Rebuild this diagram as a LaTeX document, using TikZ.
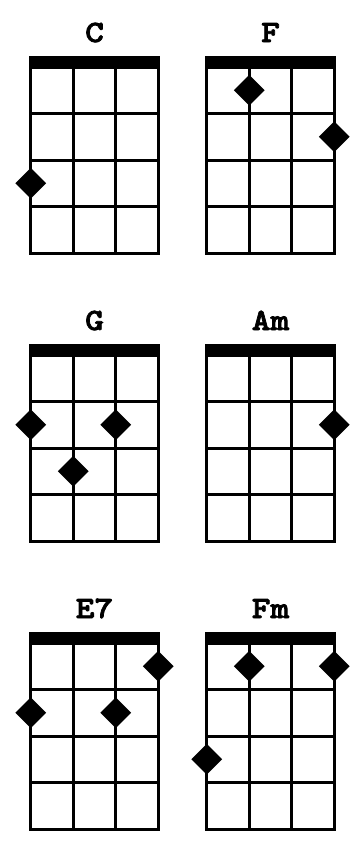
\documentclass[tikz,border=0pt]{standalone}
\usepackage{fontspec}
\newfontfamily\chordfont{lmmonolt10-bold}[Extension=.otf, FakeBold=2.4, FakeStretch=1.15]
\usetikzlibrary{shapes.geometric}

\tikzset{
  fret/.style={line width=3pt, line cap=rect},
  dot/.style={fill=black, shape=diamond, minimum width=31pt, minimum height=31pt, inner sep=0pt},
  chordname/.style={anchor=base, inner sep=0pt, font=\chordfont\fontsize{31}{31}\selectfont}
}

% #1,#2 = top left of the grid, #3 = chord name, #4 = string/fret of each finger
\newcommand{\ukechart}[4]{%
  \node[chordname] (#3) at (#1+63.8,#2-25) {#3};
  \fill (#1-1.5,#2-11) rectangle (#1+129.1,#2);
  \foreach \k in {0,...,3} \draw[fret] (#1+\k*42.53,#2) -- (#1+\k*42.53,#2+186);
  \foreach \k in {0,...,4} \draw[fret] (#1,#2+\k*46.5) -- (#1+127.6,#2+\k*46.5);
  \foreach \s/\f in {#4} \node[dot] (#3-\s-\f) at (#1+\s*42.53-42.53,#2+\f*46.5-23.25) {};
}

\begin{document}
\begin{tikzpicture}[x=1pt,y=-1pt]
\useasboundingbox (0,0) rectangle (351,844);

\ukechart{30.7}{67}{C}{1/3}
\ukechart{206.7}{67}{F}{2/1,4/2}
\ukechart{30.7}{355}{G}{1/2,3/2,2/3}
\ukechart{206.7}{355}{Am}{4/2}
\ukechart{30.7}{643}{E7}{4/1,1/2,3/2}
\ukechart{206.7}{643}{Fm}{2/1,4/1,1/3}
\end{tikzpicture}
\end{document}
